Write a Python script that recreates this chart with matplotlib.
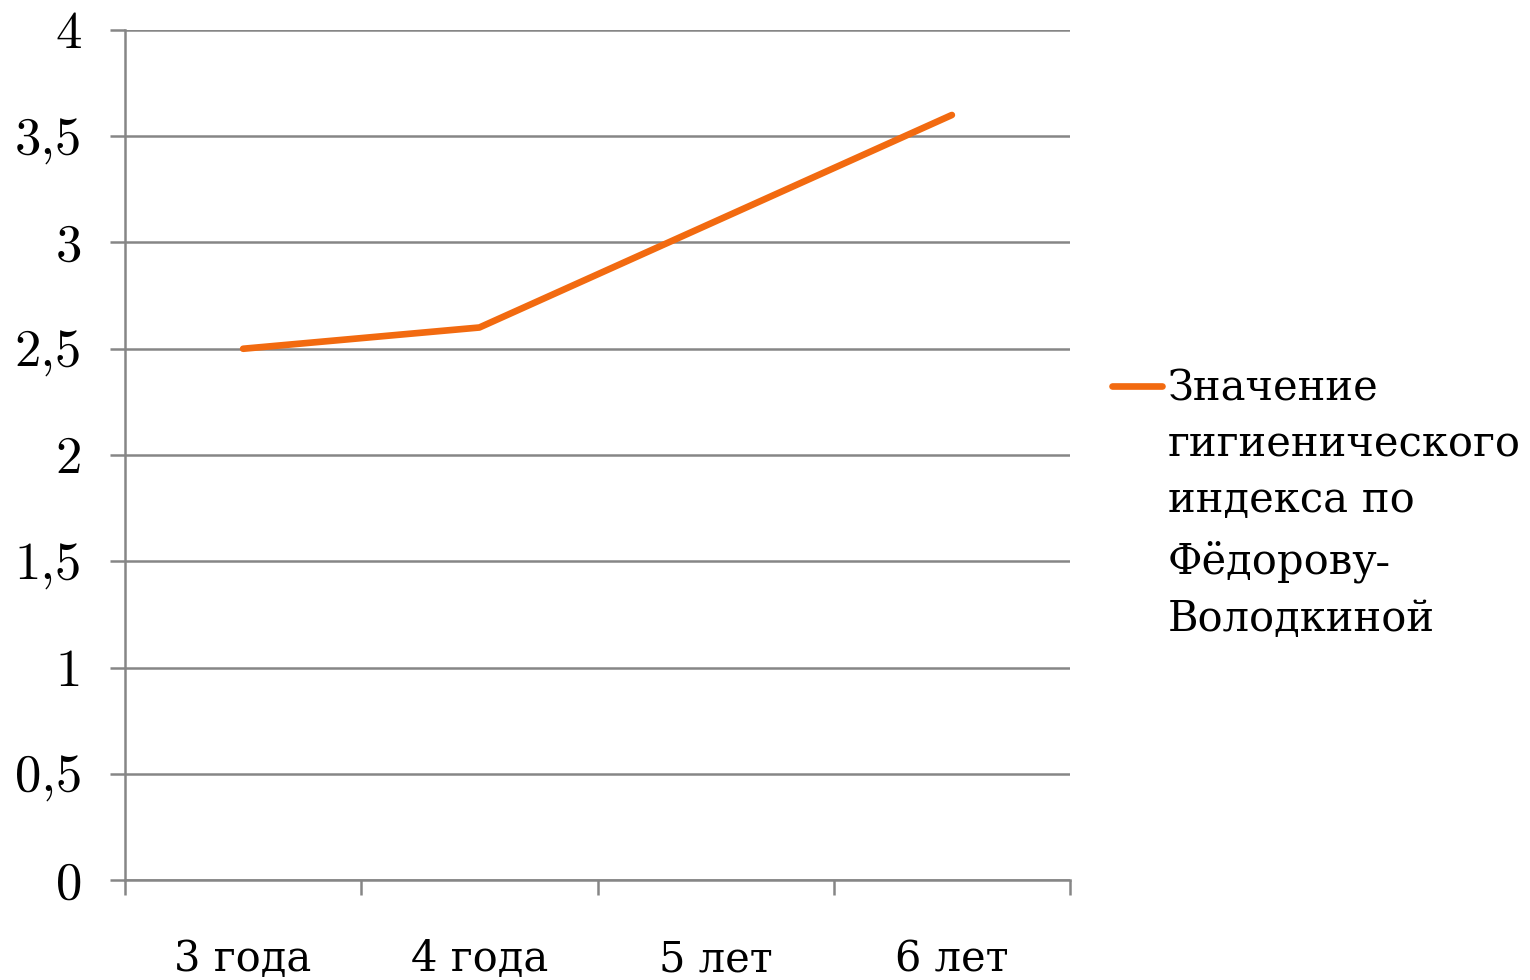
import matplotlib
matplotlib.use("Agg")
import matplotlib.pyplot as plt
from matplotlib.lines import Line2D
import numpy as np

categories = ["3 года", "4 года", "5 лет", "6 лет"]
values = [2.5, 2.6, 3.1, 3.6]
y_ticks = [0, 0.5, 1, 1.5, 2, 2.5, 3, 3.5, 4]
y_tick_labels = ["0", "0,5", "1", "1,5", "2", "2,5", "3", "3,5", "4"]
series_label = "Значение\nгигиенического\nиндекса по\nФёдорову-\nВолодкиной"

FAM = ["cmr10", "DejaVu Serif"]
plt.rcParams["font.family"] = FAM
plt.rcParams["axes.unicode_minus"] = False

GRAY = "#868686"
ORANGE = "#F26A10"

fig = plt.figure(figsize=(15.3, 9.8), dpi=100)
ax = fig.add_axes([125/1530, 100/980, 945/1530, 850/980])

x = np.arange(len(categories))
ax.plot(x, values, color=ORANGE, lw=4.8, solid_capstyle="round", zorder=3)

ax.set_xlim(-0.5, len(categories) - 0.5)
ax.set_ylim(0, 4)
ax.set_yticks(y_ticks)
ax.set_yticklabels(y_tick_labels, fontsize=38, family=FAM)
ax.set_xticks(x)
ax.set_xticklabels(categories, fontsize=30, family=["DejaVu Serif"])
ax.set_xticks(np.arange(-0.5, len(categories), 1), minor=True)

ax.tick_params(axis="x", which="major", length=0, pad=42)
ax.tick_params(axis="x", which="minor", length=11, width=1.8, color=GRAY, direction="out")
ax.tick_params(axis="y", which="major", length=11, width=1.8, color=GRAY, direction="out", pad=20)

for s in ["top", "right"]:
    ax.spines[s].set_visible(False)
for s in ["left", "bottom"]:
    ax.spines[s].set_color(GRAY)
    ax.spines[s].set_linewidth(1.8)

ax.yaxis.grid(True, color=GRAY, lw=1.8)
ax.set_axisbelow(True)
ax.set_facecolor("white")

# legend
fig.add_artist(Line2D([1112/1530, 1162/1530], [1 - 386/980, 1 - 386/980],
                      color=ORANGE, lw=4.8, solid_capstyle="round", transform=fig.transFigure))
fig.text(1168/1530, 1 - 371/980, series_label, fontsize=30, family=FAM,
         va="top", ha="left", linespacing=1.62)

fig.savefig("out.png", dpi=100, facecolor="white")
